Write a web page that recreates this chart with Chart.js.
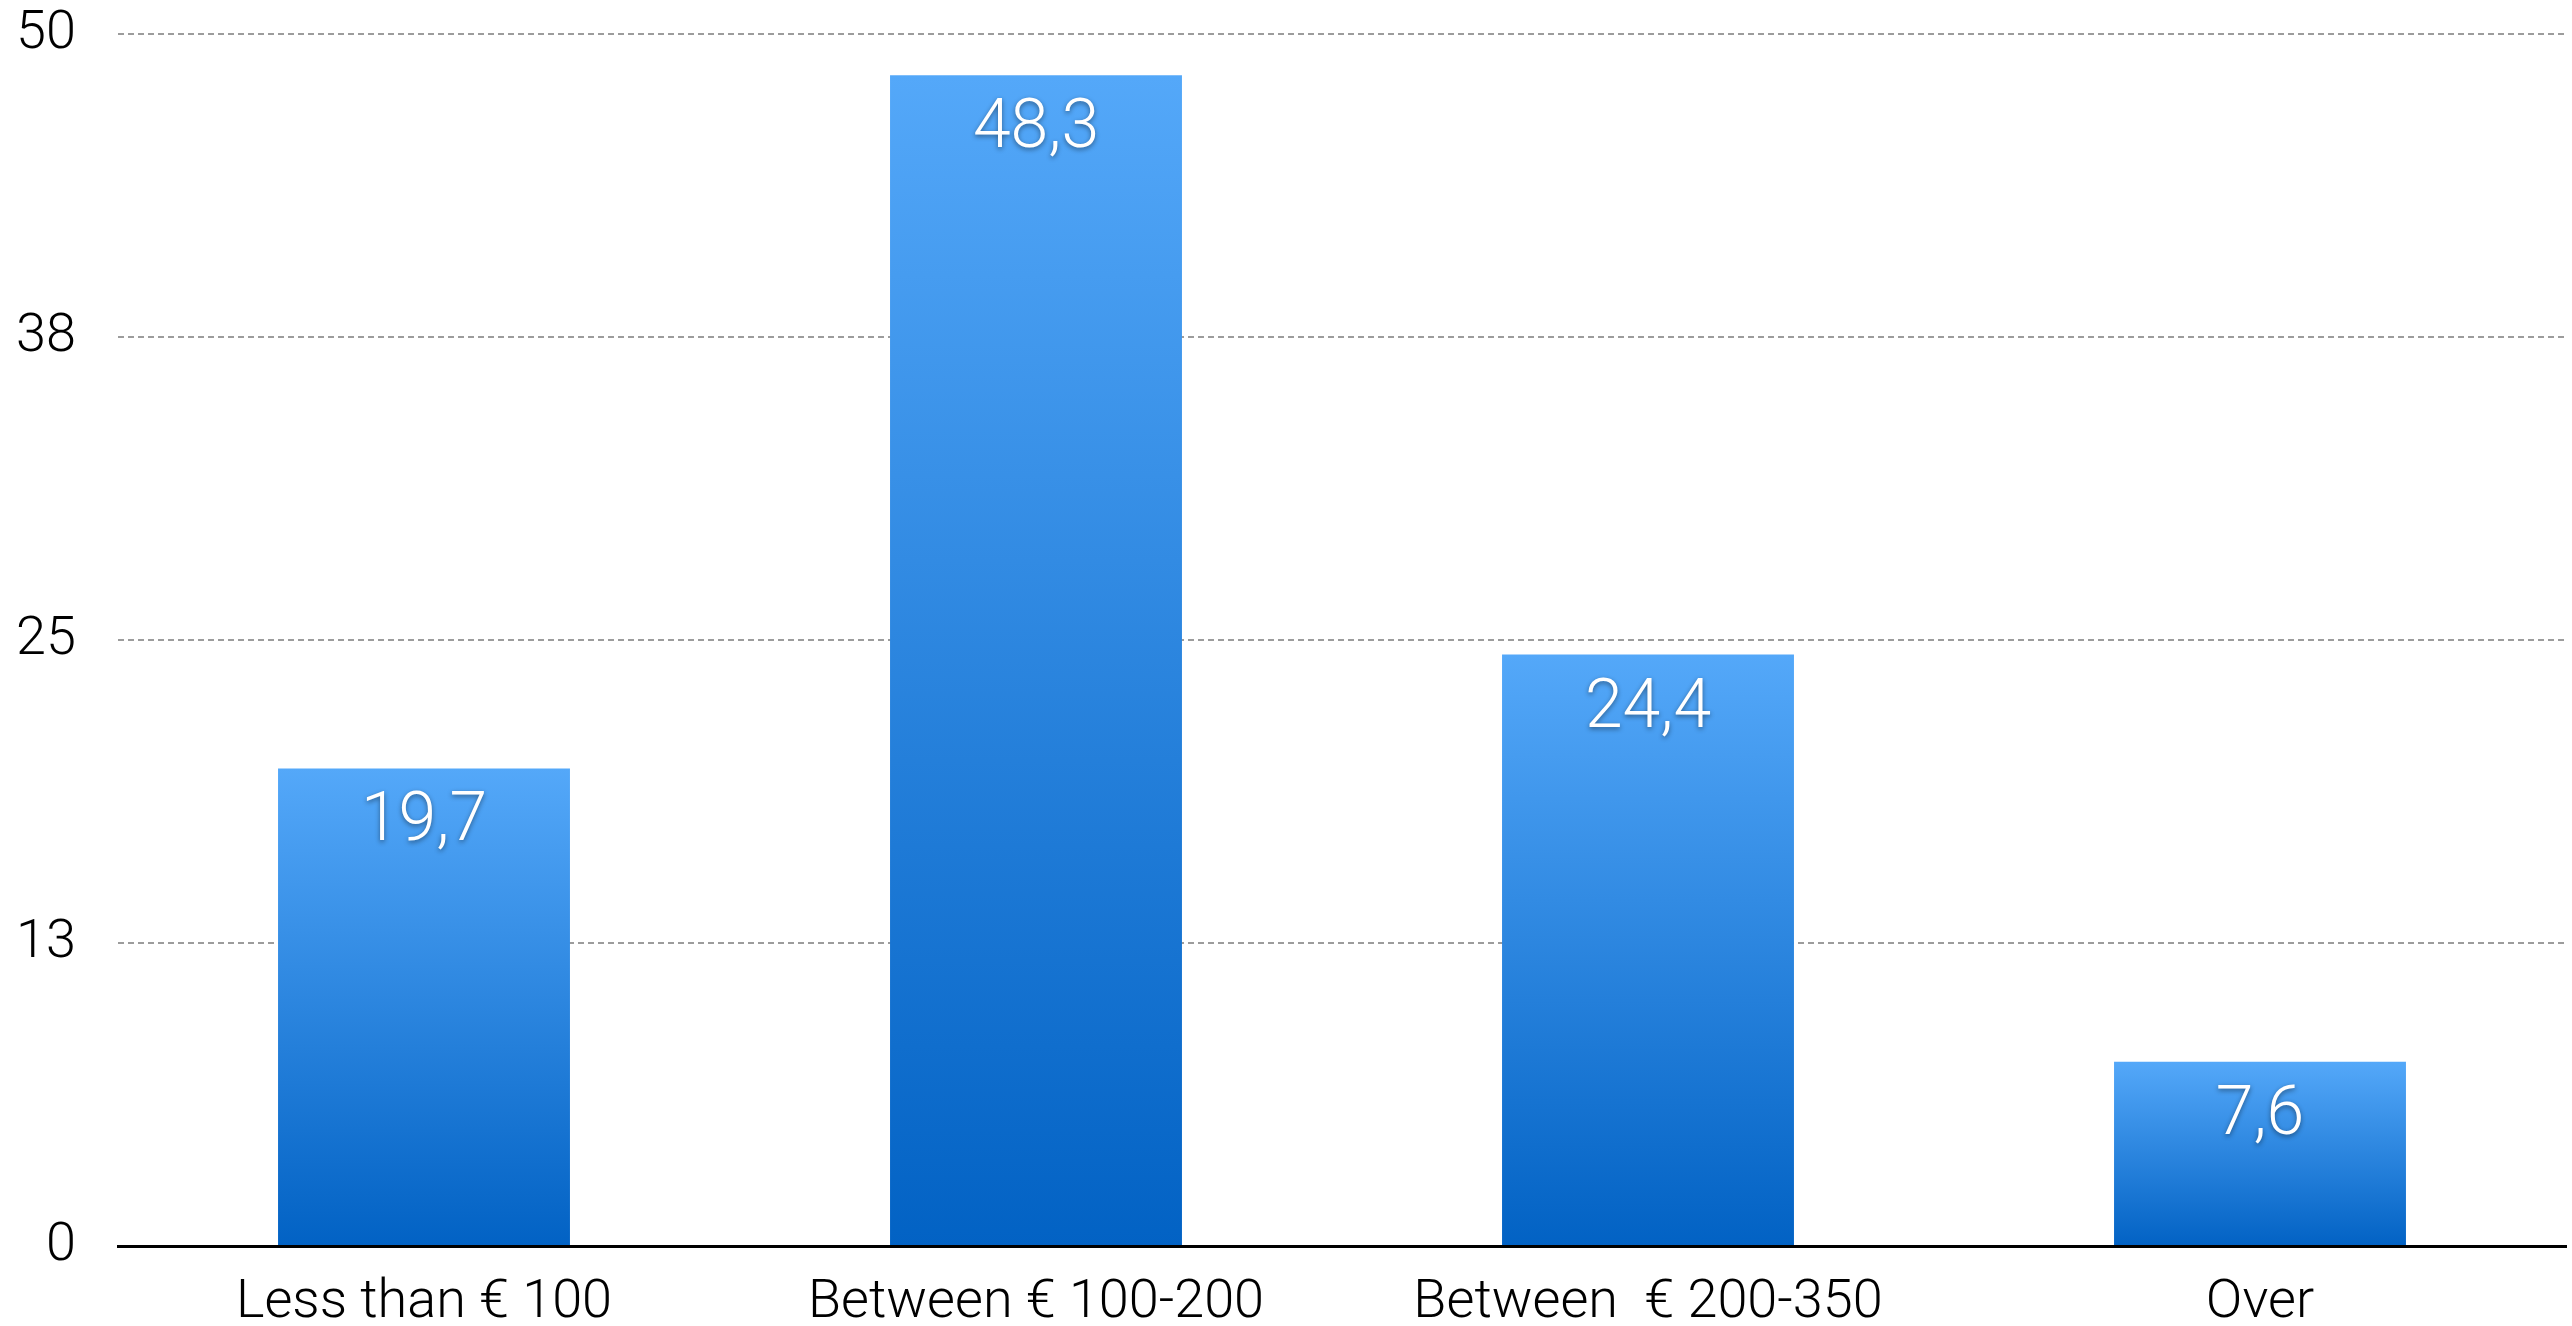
<!DOCTYPE html>
<html>
<head>
<meta charset="utf-8">
<script src="https://cdn.jsdelivr.net/npm/chart.js@4/dist/chart.umd.min.js"></script>
<style>
    html, body { margin: 0; padding: 0; background: #fff; }
    #wrap { width: 2572px; height: 1326px; }
</style>
</head>
<body>
<div id="wrap"><canvas id="spendChart"></canvas></div>
<script>
const categories = ['Less than € 100', 'Between € 100-200', 'Between  € 200-350', 'Over'];
const shares = [19.7, 48.3, 24.4, 7.6];
const yTicks = [0, 12.5, 25, 37.5, 50];

const blueTop = 'rgb(84, 168, 249)';
const blueBottom = 'rgb(2, 98, 196)';
const fontFamily = "Roboto, 'Liberation Sans', sans-serif";

// vertical gradient per bar, from its own top down to zero
function barGradient(context) {
    const chart = context.chart;
    if (!chart.chartArea || context.type !== 'data') return blueTop;
    const y = chart.scales.y;
    const top = y.getPixelForValue(context.raw);
    const base = y.getPixelForValue(0);
    const g = chart.ctx.createLinearGradient(0, top, 0, base);
    g.addColorStop(0, blueTop);
    g.addColorStop(1, blueBottom);
    return g;
}

// white value labels inside the top of each bar
const valueLabels = {
    id: 'valueLabels',
    afterDatasetsDraw(chart) {
        const ctx = chart.ctx;
        const meta = chart.getDatasetMeta(0);
        ctx.save();
        ctx.font = '300 68px ' + fontFamily;
        ctx.fillStyle = '#ffffff';
        ctx.textAlign = 'center';
        ctx.textBaseline = 'alphabetic';
        ctx.shadowColor = 'rgba(0, 0, 0, 0.45)';
        ctx.shadowBlur = 5;
        ctx.shadowOffsetY = 2;
        meta.data.forEach((bar, i) => {
            const text = String(shares[i]).replace('.', ',');
            ctx.fillText(text, bar.x, bar.y + 72);
        });
        ctx.restore();
    },
};

new Chart(document.getElementById('spendChart'), {
    type: 'bar',
    data: {
        labels: categories,
        datasets: [{
            data: shares,
            backgroundColor: barGradient,
            borderWidth: 0,
            barPercentage: 0.477,
            categoryPercentage: 1,
        }],
    },
    options: {
        responsive: true,
        maintainAspectRatio: false,
        animation: false,
        layout: { padding: { top: 0, right: 6, left: 0, bottom: 0 } },
        plugins: {
            legend: { display: false },
            tooltip: { enabled: false },
        },
        scales: {
            x: {
                grid: { display: false, drawTicks: false },
                border: { color: '#000', width: 3 },
                afterFit: (scale) => { scale.height = 80; },
                ticks: {
                    color: '#000',
                    padding: 25,
                    font: { family: fontFamily, size: 54, weight: '300' },
                },
            },
            y: {
                min: 0,
                max: 50,
                afterBuildTicks: (scale) => {
                    scale.ticks = yTicks.map(v => ({ value: v }));
                },
                afterFit: (scale) => {
                    scale.width = 118;
                    scale.paddingTop = 34;
                    scale.paddingBottom = 0;
                },
                grid: {
                    drawTicks: false,
                    color: (c) => c.tick && c.tick.value === 0 ? 'rgba(0,0,0,0)' : '#9c9c9c',
                    lineWidth: 2,
                },
                border: { display: false, dash: [6, 4] },
                ticks: {
                    color: '#000',
                    padding: 42,
                    font: { family: fontFamily, size: 54, weight: '300' },
                    callback: (v) => Math.round(v),
                },
            },
        },
    },
    plugins: [valueLabels],
});
</script>
</body>
</html>
